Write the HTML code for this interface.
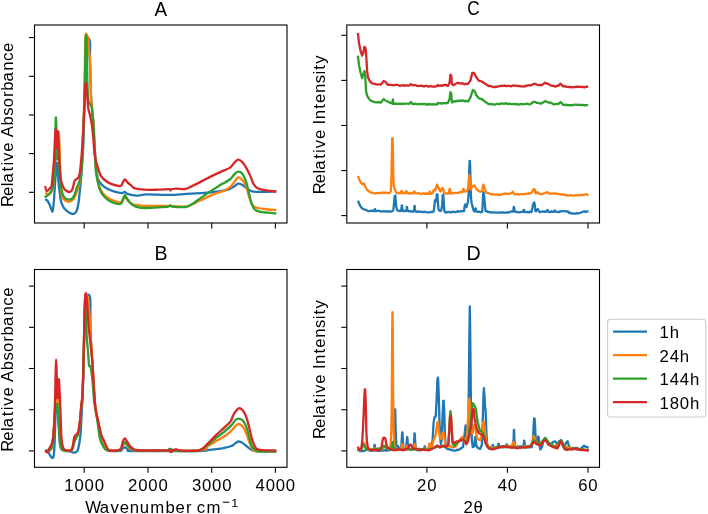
<!DOCTYPE html>
<html><head><meta charset="utf-8"><style>html,body{margin:0;padding:0;background:#fff;width:708px;height:514px;overflow:hidden}svg{display:block}</style></head>
<body><svg width="708" height="514" viewBox="0 0 708 514" style="will-change:transform">
<rect x="0" y="0" width="708" height="514" fill="#fff"/>
<clipPath id="cpA"><rect x="34.5" y="25.0" width="252.5" height="198.0"/></clipPath>
<clipPath id="cpC"><rect x="346.8" y="25.0" width="252.7" height="198.0"/></clipPath>
<clipPath id="cpB"><rect x="34.5" y="269.5" width="252.5" height="197.8"/></clipPath>
<clipPath id="cpD"><rect x="346.8" y="269.5" width="252.7" height="197.8"/></clipPath>
<g clip-path="url(#cpA)" fill="none" stroke-width="2.3" stroke-linejoin="round" stroke-linecap="butt">
<path stroke="#1f77b4" d="M45.20,199.10C45.62,199.42 46.97,200.07 47.70,201.00C48.43,201.93 48.97,203.25 49.60,204.70C50.23,206.15 50.98,208.65 51.50,209.70C52.02,210.75 52.28,212.65 52.70,211.00C53.12,209.35 53.58,204.78 54.00,199.80C54.42,194.82 54.80,186.70 55.20,181.10C55.60,175.50 56.10,169.22 56.40,166.20C56.70,163.18 56.77,162.03 57.00,163.00C57.23,163.97 57.50,168.33 57.80,172.00C58.10,175.67 58.47,181.50 58.80,185.00C59.13,188.50 59.42,190.22 59.80,193.00C60.18,195.78 60.45,199.25 61.10,201.70C61.75,204.15 62.70,206.13 63.70,207.70C64.70,209.27 65.82,210.10 67.10,211.10C68.38,212.10 70.25,213.27 71.40,213.70C72.55,214.13 73.13,214.13 74.00,213.70C74.87,213.27 75.88,212.67 76.60,211.10C77.32,209.53 77.80,207.30 78.30,204.30C78.80,201.30 79.17,197.10 79.60,193.10C80.03,189.10 80.53,184.48 80.90,180.30C81.27,176.12 81.45,173.05 81.80,168.00C82.15,162.95 82.63,158.00 83.00,150.00C83.37,142.00 83.70,130.00 84.00,120.00C84.30,110.00 84.55,100.00 84.80,90.00C85.05,80.00 85.27,68.00 85.50,60.00C85.73,52.00 85.92,45.57 86.20,42.00C86.48,38.43 86.75,39.15 87.20,38.60C87.65,38.05 88.43,38.20 88.90,38.70C89.37,39.20 89.80,40.05 90.00,41.60C90.20,43.15 90.12,45.27 90.10,48.00C90.08,50.73 89.88,54.67 89.90,58.00C89.92,61.33 90.10,64.67 90.20,68.00C90.30,71.33 90.40,74.33 90.50,78.00C90.60,81.67 90.67,86.33 90.80,90.00C90.93,93.67 91.07,96.67 91.30,100.00C91.53,103.33 91.88,106.33 92.20,110.00C92.52,113.67 92.87,117.00 93.20,122.00C93.53,127.00 93.82,133.67 94.20,140.00C94.58,146.33 95.12,155.00 95.50,160.00C95.88,165.00 96.08,166.87 96.50,170.00C96.92,173.13 97.15,176.38 98.00,178.80C98.85,181.22 100.03,182.83 101.60,184.50C103.17,186.17 105.23,187.60 107.40,188.80C109.57,190.00 112.20,190.97 114.60,191.70C117.00,192.43 120.13,193.15 121.80,193.20C123.47,193.25 123.65,191.88 124.60,192.00C125.55,192.12 125.93,193.35 127.50,193.90C129.07,194.45 132.17,195.02 134.00,195.30C135.83,195.58 136.33,195.77 138.50,195.60C140.67,195.43 141.83,194.42 147.00,194.30C152.17,194.18 162.92,194.97 169.50,194.90C176.08,194.83 181.32,194.18 186.50,193.90C191.68,193.62 196.83,193.43 200.60,193.20C204.37,192.97 206.20,192.80 209.10,192.50C212.00,192.20 214.97,191.83 218.00,191.40C221.03,190.97 224.70,190.67 227.30,189.90C229.90,189.13 231.78,187.83 233.60,186.80C235.42,185.77 236.65,183.97 238.20,183.70C239.75,183.43 241.35,184.30 242.90,185.20C244.45,186.10 245.95,188.07 247.50,189.10C249.05,190.13 250.38,190.93 252.20,191.40C254.02,191.87 254.38,191.90 258.40,191.90C262.42,191.90 273.32,191.48 276.30,191.40"/>
<path stroke="#ff7f0e" d="M45.20,193.20C45.73,193.32 47.52,193.93 48.40,193.90C49.28,193.87 49.90,193.48 50.50,193.00C51.10,192.52 51.52,192.33 52.00,191.00C52.48,189.67 52.98,188.50 53.40,185.00C53.82,181.50 54.15,175.83 54.50,170.00C54.85,164.17 55.17,155.00 55.50,150.00C55.83,145.00 56.17,142.67 56.50,140.00C56.83,137.33 57.15,135.37 57.50,134.00C57.85,132.63 58.30,130.80 58.60,131.80C58.90,132.80 59.08,135.30 59.30,140.00C59.52,144.70 59.68,153.33 59.90,160.00C60.12,166.67 60.37,175.00 60.60,180.00C60.83,185.00 61.07,187.23 61.30,190.00C61.53,192.77 61.45,194.93 62.00,196.60C62.55,198.27 63.60,199.15 64.60,200.00C65.60,200.85 66.87,201.55 68.00,201.70C69.13,201.85 70.25,201.75 71.40,200.90C72.55,200.05 73.90,198.47 74.90,196.60C75.90,194.73 76.70,191.70 77.40,189.70C78.10,187.70 78.58,186.55 79.10,184.60C79.62,182.65 80.10,181.27 80.50,178.00C80.90,174.73 81.17,169.67 81.50,165.00C81.83,160.33 82.17,157.17 82.50,150.00C82.83,142.83 83.20,130.33 83.50,122.00C83.80,113.67 84.08,108.67 84.30,100.00C84.52,91.33 84.65,79.17 84.80,70.00C84.95,60.83 85.03,50.95 85.20,45.00C85.37,39.05 85.53,35.92 85.80,34.30C86.07,32.68 86.42,34.65 86.80,35.30C87.18,35.95 87.75,35.87 88.10,38.20C88.45,40.53 88.63,46.15 88.90,49.30C89.17,52.45 89.47,54.32 89.70,57.10C89.93,59.88 90.15,62.18 90.30,66.00C90.45,69.82 90.48,74.78 90.60,80.00C90.72,85.22 90.82,93.18 91.00,97.30C91.18,101.42 91.43,102.08 91.70,104.70C91.97,107.32 92.30,109.62 92.60,113.00C92.90,116.38 93.18,119.67 93.50,125.00C93.82,130.33 94.17,138.83 94.50,145.00C94.83,151.17 95.17,157.50 95.50,162.00C95.83,166.50 96.08,168.67 96.50,172.00C96.92,175.33 97.15,178.72 98.00,182.00C98.85,185.28 100.03,189.12 101.60,191.70C103.17,194.28 105.23,195.93 107.40,197.50C109.57,199.07 112.45,200.27 114.60,201.10C116.75,201.93 118.98,202.68 120.30,202.50C121.62,202.32 121.78,200.83 122.50,200.00C123.22,199.17 123.85,197.58 124.60,197.50C125.35,197.42 126.27,198.78 127.00,199.50C127.73,200.22 127.83,200.93 129.00,201.80C130.17,202.67 132.90,204.18 134.00,204.70C135.10,205.22 133.92,204.70 135.60,204.90C137.28,205.10 138.68,205.73 144.10,205.90C149.52,206.07 161.27,205.78 168.10,205.90C174.93,206.02 181.33,206.72 185.10,206.60C188.87,206.48 188.12,206.25 190.70,205.20C193.28,204.15 196.60,202.18 200.60,200.30C204.60,198.42 210.77,195.50 214.70,193.90C218.63,192.30 221.58,191.88 224.20,190.70C226.82,189.52 228.72,188.23 230.40,186.80C232.08,185.37 233.00,183.67 234.30,182.10C235.60,180.53 236.90,177.78 238.20,177.40C239.50,177.02 240.80,178.37 242.10,179.80C243.40,181.23 244.83,183.15 246.00,186.00C247.17,188.85 248.07,193.78 249.10,196.90C250.13,200.02 251.03,202.93 252.20,204.70C253.37,206.47 254.02,206.78 256.10,207.50C258.18,208.22 261.33,208.57 264.70,209.00C268.07,209.43 274.37,209.92 276.30,210.10"/>
<path stroke="#2ca02c" d="M44.60,197.30C45.12,196.98 46.77,196.13 47.70,195.40C48.63,194.67 49.37,194.25 50.20,192.90C51.03,191.55 51.97,190.30 52.70,187.30C53.43,184.30 54.18,181.12 54.60,174.90C55.02,168.68 55.02,159.28 55.20,150.00C55.38,140.72 55.52,123.37 55.70,119.20C55.88,115.03 56.10,118.53 56.30,125.00C56.50,131.47 56.68,153.50 56.90,158.00C57.12,162.50 57.35,154.83 57.60,152.00C57.85,149.17 58.17,141.00 58.40,141.00C58.63,141.00 58.82,147.17 59.00,152.00C59.18,156.83 59.28,165.33 59.50,170.00C59.72,174.67 60.03,177.15 60.30,180.00C60.57,182.85 60.67,184.62 61.10,187.10C61.53,189.58 62.18,193.03 62.90,194.90C63.62,196.77 64.40,197.52 65.40,198.30C66.40,199.08 67.75,199.60 68.90,199.60C70.05,199.60 71.30,199.23 72.30,198.30C73.30,197.37 74.18,195.72 74.90,194.00C75.62,192.28 76.03,189.57 76.60,188.00C77.17,186.43 77.80,185.88 78.30,184.60C78.80,183.32 79.17,181.73 79.60,180.30C80.03,178.87 80.53,178.55 80.90,176.00C81.27,173.45 81.47,169.33 81.80,165.00C82.13,160.67 82.60,156.83 82.90,150.00C83.20,143.17 83.33,132.33 83.60,124.00C83.87,115.67 84.25,109.00 84.50,100.00C84.75,91.00 84.95,79.17 85.10,70.00C85.25,60.83 85.27,50.73 85.40,45.00C85.53,39.27 85.70,36.77 85.90,35.60C86.10,34.43 86.42,35.60 86.60,38.00C86.78,40.40 86.91,45.50 87.00,50.00C87.09,54.50 87.09,60.00 87.15,65.00C87.21,70.00 87.22,75.00 87.35,80.00C87.47,85.00 87.69,91.33 87.90,95.00C88.11,98.67 88.18,100.38 88.60,102.00C89.02,103.62 89.88,103.83 90.40,104.70C90.92,105.57 91.38,105.75 91.70,107.20C92.02,108.65 92.00,110.60 92.30,113.40C92.60,116.20 93.17,119.57 93.50,124.00C93.83,128.43 94.02,134.33 94.30,140.00C94.58,145.67 94.93,152.73 95.20,158.00C95.47,163.27 95.32,166.93 95.90,171.60C96.48,176.27 97.75,182.40 98.70,186.00C99.65,189.60 100.15,190.93 101.60,193.20C103.05,195.47 105.23,197.93 107.40,199.60C109.57,201.27 112.45,202.47 114.60,203.20C116.75,203.93 118.98,204.35 120.30,204.00C121.62,203.65 121.78,202.55 122.50,201.10C123.22,199.65 123.88,195.78 124.60,195.30C125.32,194.82 125.83,196.88 126.80,198.20C127.77,199.52 128.93,201.80 130.40,203.20C131.87,204.60 133.32,205.80 135.60,206.60C137.88,207.40 140.33,207.88 144.10,208.00C147.87,208.12 154.20,207.53 158.20,207.30C162.20,207.07 166.08,206.95 168.10,206.60C170.12,206.25 169.58,205.20 170.30,205.20C171.02,205.20 169.93,206.30 172.40,206.60C174.87,206.90 182.05,207.28 185.10,207.00C188.15,206.72 188.12,206.38 190.70,204.90C193.28,203.42 197.07,200.52 200.60,198.10C204.13,195.68 208.37,192.75 211.90,190.40C215.43,188.05 219.75,185.25 221.80,184.00C223.85,182.75 222.77,183.73 224.20,182.90C225.63,182.07 228.72,180.43 230.40,179.00C232.08,177.57 233.00,175.52 234.30,174.30C235.60,173.08 236.90,171.83 238.20,171.70C239.50,171.57 240.80,171.90 242.10,173.50C243.40,175.10 244.83,177.92 246.00,181.30C247.17,184.68 248.20,190.17 249.10,193.80C250.00,197.43 250.50,200.52 251.40,203.10C252.30,205.68 253.07,207.87 254.50,209.30C255.93,210.73 257.78,211.13 260.00,211.70C262.22,212.27 265.08,212.40 267.80,212.70C270.52,213.00 274.88,213.37 276.30,213.50"/>
<path stroke="#d62728" d="M45.20,186.00C45.42,186.83 45.77,190.57 46.50,191.00C47.23,191.43 48.77,189.43 49.60,188.60C50.43,187.77 50.98,188.28 51.50,186.00C52.02,183.72 52.28,179.23 52.70,174.90C53.12,170.57 53.63,165.82 54.00,160.00C54.37,154.18 54.63,145.08 54.90,140.00C55.17,134.92 55.38,130.67 55.60,129.50C55.82,128.33 56.02,129.92 56.20,133.00C56.38,136.08 56.53,146.83 56.70,148.00C56.87,149.17 57.03,142.75 57.20,140.00C57.37,137.25 57.52,132.17 57.70,131.50C57.88,130.83 58.10,132.92 58.30,136.00C58.50,139.08 58.70,145.18 58.90,150.00C59.10,154.82 59.27,160.90 59.50,164.90C59.73,168.90 60.03,171.30 60.30,174.00C60.57,176.70 60.53,178.77 61.10,181.10C61.67,183.43 62.88,186.43 63.70,188.00C64.52,189.57 65.13,189.85 66.00,190.50C66.87,191.15 68.00,191.82 68.90,191.90C69.80,191.98 70.70,191.80 71.40,191.00C72.10,190.20 72.60,188.75 73.10,187.10C73.60,185.45 73.90,182.38 74.40,181.10C74.90,179.82 75.38,180.10 76.10,179.40C76.82,178.70 78.05,178.20 78.70,176.90C79.35,175.60 79.50,175.42 80.00,171.60C80.50,167.78 81.27,159.30 81.70,154.00C82.13,148.70 82.28,144.80 82.60,139.80C82.92,134.80 83.30,129.80 83.60,124.00C83.90,118.20 84.17,110.67 84.40,105.00C84.63,99.33 84.78,93.67 85.00,90.00C85.22,86.33 85.47,83.33 85.70,83.00C85.93,82.67 86.13,85.62 86.40,88.00C86.67,90.38 86.97,93.80 87.30,97.30C87.63,100.80 87.92,105.88 88.40,109.00C88.88,112.12 89.62,113.33 90.20,116.00C90.78,118.67 91.40,121.50 91.90,125.00C92.40,128.50 92.82,132.83 93.20,137.00C93.58,141.17 93.87,146.50 94.20,150.00C94.53,153.50 94.68,155.37 95.20,158.00C95.72,160.63 96.35,162.82 97.30,165.80C98.25,168.78 99.45,173.37 100.90,175.90C102.35,178.43 104.20,179.62 106.00,181.00C107.80,182.38 109.32,183.37 111.70,184.20C114.08,185.03 118.50,186.18 120.30,186.00C122.10,185.82 121.73,184.18 122.50,183.10C123.27,182.02 124.07,179.62 124.90,179.50C125.73,179.38 126.35,181.32 127.50,182.40C128.65,183.48 130.68,185.03 131.80,186.00C132.92,186.97 132.15,187.58 134.20,188.20C136.25,188.82 140.10,189.45 144.10,189.70C148.10,189.95 153.97,189.78 158.20,189.70C162.43,189.62 167.45,189.07 169.50,189.20C171.55,189.33 170.08,190.53 170.50,190.50C170.92,190.47 170.98,189.30 172.00,189.00C173.02,188.70 174.42,188.70 176.60,188.70C178.78,188.70 182.98,189.20 185.10,189.00C187.22,188.80 186.72,188.68 189.30,187.50C191.88,186.32 196.37,184.05 200.60,181.90C204.83,179.75 210.77,176.52 214.70,174.60C218.63,172.68 221.58,171.62 224.20,170.40C226.82,169.18 228.72,168.58 230.40,167.30C232.08,166.02 233.00,163.98 234.30,162.70C235.60,161.42 236.90,159.73 238.20,159.60C239.50,159.47 240.80,160.62 242.10,161.90C243.40,163.18 244.70,165.10 246.00,167.30C247.30,169.50 248.73,172.50 249.90,175.10C251.07,177.70 251.97,180.88 253.00,182.90C254.03,184.92 254.93,186.17 256.10,187.20C257.27,188.23 258.05,188.52 260.00,189.10C261.95,189.68 265.08,190.27 267.80,190.70C270.52,191.13 274.88,191.53 276.30,191.70"/>
</g>
<g clip-path="url(#cpC)" fill="none" stroke-width="2.3" stroke-linejoin="round" stroke-linecap="butt">
<polyline stroke="#1f77b4" points="358.10,200.70 359.20,203.80 360.40,206.30 362.00,208.20 364.10,209.60 365.55,209.62 367.00,210.50 368.23,211.08 369.47,211.19 370.70,211.00 372.10,210.67 373.50,211.10 373.90,211.20 374.40,210.15 374.78,209.10 375.02,209.10 375.40,210.15 375.90,211.20 377.27,210.96 378.63,210.91 380.00,211.20 381.20,211.57 382.40,211.40 383.60,211.09 384.80,211.27 386.00,211.30 387.16,211.58 388.32,211.07 389.48,211.52 390.64,211.65 391.80,211.40 393.30,210.40 393.90,205.00 394.50,198.00 394.90,195.60 395.30,195.60 395.70,200.00 396.30,207.00 397.30,210.40 399.50,211.00 400.90,211.00 401.55,208.25 401.78,205.50 402.02,205.50 402.25,208.25 402.90,211.00 404.50,211.00 406.00,211.00 406.55,209.00 406.78,207.00 407.02,207.00 407.25,209.00 407.80,211.00 409.50,211.30 410.77,211.03 412.03,211.72 413.30,211.50 413.60,211.50 414.25,208.65 414.48,205.80 414.72,205.80 414.95,208.65 415.60,211.50 417.07,212.02 418.53,211.30 420.00,211.80 421.20,211.82 422.40,211.98 423.60,212.16 424.80,211.76 426.00,212.20 427.30,212.31 428.60,212.47 429.90,212.18 431.20,211.83 432.50,212.00 433.60,211.50 434.30,207.00 434.80,201.00 435.30,200.00 435.80,201.50 436.30,200.00 436.80,194.50 437.40,194.50 437.90,202.00 438.40,209.00 439.20,210.50 440.20,211.00 441.30,210.50 442.20,205.00 442.80,195.00 443.40,195.00 443.90,205.00 444.50,211.50 445.40,212.60 446.70,212.08 448.00,212.20 449.12,211.94 450.24,212.38 451.36,212.41 452.48,211.68 453.60,211.90 454.95,212.16 456.30,211.80 457.65,211.34 459.00,211.50 460.25,211.31 461.50,211.03 462.75,211.18 464.00,211.20 464.70,206.00 465.20,204.40 465.90,206.50 466.50,207.10 467.30,204.00 467.90,201.70 468.50,196.00 468.90,185.00 469.30,168.00 469.60,160.90 469.90,160.90 470.20,168.00 470.60,185.00 471.00,198.00 471.60,203.00 472.70,207.10 473.50,210.00 474.00,211.20 474.60,211.50 475.10,210.00 475.48,208.50 475.72,208.50 476.10,210.00 476.60,211.50 477.50,211.90 478.68,211.56 479.85,211.95 481.02,212.27 482.20,211.90 482.70,203.00 483.10,195.00 483.40,192.20 483.80,193.50 484.20,196.30 484.80,204.00 485.60,211.20 486.80,211.19 488.00,212.00 489.23,211.91 490.47,212.15 491.70,212.60 492.89,212.32 494.07,212.42 495.26,212.56 496.44,212.64 497.63,212.66 498.81,212.72 500.00,212.60 501.20,212.23 502.40,212.74 503.60,212.48 504.80,212.70 506.40,212.75 508.00,212.20 509.40,212.39 510.80,211.43 512.20,211.50 512.70,211.70 513.40,209.30 513.78,206.90 514.02,206.90 514.40,209.30 515.10,211.70 516.55,212.14 518.00,212.00 519.25,212.39 520.50,212.18 521.75,211.70 523.00,212.00 523.00,212.00 523.40,210.90 523.78,209.80 524.02,209.80 524.40,210.90 524.80,212.00 525.90,212.25 527.00,212.00 528.12,211.91 529.25,212.30 530.38,211.59 531.50,212.00 532.40,208.00 533.10,204.00 533.60,203.20 534.30,202.40 534.80,205.00 535.40,211.00 536.20,211.30 537.20,209.50 537.90,209.10 538.60,210.50 539.50,212.00 540.62,212.10 541.75,211.37 542.88,211.53 544.00,211.50 546.20,211.80 546.90,210.80 547.28,209.80 547.52,209.80 547.90,210.80 548.60,211.80 549.80,212.07 551.00,211.50 552.25,211.75 553.50,211.80 554.20,211.15 554.58,210.50 554.82,210.50 555.20,211.15 555.90,211.80 558.00,211.80 559.37,211.99 560.73,211.03 562.10,211.30 563.40,211.19 564.70,211.05 566.00,211.50 568.00,211.30 569.40,213.20 570.60,212.87 571.80,213.43 573.00,213.50 574.30,213.71 575.60,213.62 576.90,213.09 578.20,213.50 579.60,212.98 581.00,212.50 582.55,211.99 584.10,211.30 586.00,211.80 587.25,211.35 588.50,211.30"/>
<polyline stroke="#ff7f0e" points="357.90,175.80 359.70,180.40 361.20,183.00 362.50,184.00 363.50,183.50 364.30,184.00 365.20,186.50 366.10,188.60 367.80,190.50 369.80,191.90 371.40,192.75 373.00,192.80 374.37,193.34 375.73,193.42 377.10,193.20 378.20,193.21 379.30,193.19 380.40,192.69 381.50,192.93 382.60,192.60 384.07,193.10 385.53,192.45 387.00,192.80 388.50,193.10 390.00,192.60 390.90,191.00 391.50,175.00 391.90,150.00 392.20,138.20 392.60,138.20 392.90,150.00 393.30,175.00 393.80,186.00 394.40,188.00 395.20,190.50 396.30,192.50 397.30,193.20 398.40,193.45 399.50,192.83 400.60,193.00 400.60,193.20 401.10,192.10 401.48,191.00 401.72,191.00 402.10,192.10 402.60,193.20 404.05,192.85 405.50,193.00 405.50,193.20 405.90,192.20 406.28,191.20 406.52,191.20 406.90,192.20 407.30,193.20 408.52,193.63 409.74,193.18 410.96,193.58 412.18,192.90 413.40,193.20 413.40,193.40 413.80,192.40 414.18,191.40 414.42,191.40 414.80,192.40 415.20,193.40 416.40,193.45 417.60,193.39 418.80,193.20 420.00,193.60 421.10,193.77 422.20,193.87 423.30,193.33 424.40,193.50 425.50,193.86 426.60,193.31 427.70,193.94 428.80,193.80 428.90,193.80 429.30,192.70 429.68,191.60 429.92,191.60 430.30,192.70 430.70,193.80 432.50,193.20 433.60,190.50 434.30,189.60 435.30,190.50 436.30,187.00 437.10,184.60 437.90,186.50 438.80,188.50 439.70,190.50 440.60,191.50 441.60,189.00 442.40,188.00 443.20,189.00 444.10,193.00 445.50,193.50 446.85,193.55 448.20,193.50 448.70,193.50 449.30,191.15 449.68,188.80 449.92,188.80 450.30,191.15 450.90,193.50 452.50,193.30 453.77,193.18 455.03,192.81 456.30,192.90 457.40,192.84 458.50,193.02 459.60,192.36 460.70,191.99 461.80,192.20 462.40,192.20 462.90,190.50 463.28,188.80 463.52,188.80 463.90,190.15 464.40,191.50 465.20,191.50 467.20,190.80 468.20,188.00 468.80,182.00 469.30,175.20 469.80,182.00 470.30,188.50 471.00,189.50 472.00,187.00 472.70,186.10 474.00,185.60 474.70,185.60 475.60,187.50 476.70,189.50 479.50,191.50 480.85,191.49 482.20,190.80 482.80,187.00 483.30,184.70 483.90,186.00 484.60,188.10 485.50,191.00 486.30,192.90 487.65,192.97 489.00,193.19 490.35,194.13 491.70,194.20 493.13,194.42 494.57,194.65 496.00,194.40 497.33,194.90 498.67,194.62 500.00,194.90 501.20,194.59 502.40,193.92 503.60,194.11 504.80,193.60 506.10,193.67 507.40,193.88 508.70,193.93 510.00,193.50 511.90,192.80 512.90,191.80 514.00,193.50 515.10,194.40 516.33,194.38 517.55,193.89 518.77,194.65 520.00,194.20 521.25,194.04 522.50,194.15 523.75,194.20 525.00,194.00 526.25,194.05 527.50,193.56 528.75,193.50 530.00,193.60 531.80,192.30 532.70,190.70 533.60,189.20 534.50,189.20 535.30,192.00 535.90,193.60 537.20,192.50 537.90,192.20 539.00,193.50 540.00,193.80 541.33,194.12 542.67,193.92 544.00,193.40 545.10,193.03 546.20,192.50 547.40,192.20 548.60,193.20 550.00,193.60 551.20,193.66 552.40,193.36 553.60,193.54 554.80,193.41 556.00,193.50 557.33,193.81 558.67,194.22 560.00,194.20 561.30,194.61 562.60,194.49 563.90,194.39 565.20,195.15 566.50,195.10 567.67,195.58 568.83,195.55 570.00,195.20 571.33,195.30 572.65,195.67 573.97,195.38 575.30,195.40 576.47,194.90 577.65,195.41 578.83,195.44 580.00,195.20 581.33,194.91 582.67,195.13 584.00,194.80 585.12,194.57 586.25,194.22 587.38,194.80 588.50,194.40"/>
<polyline stroke="#2ca02c" points="357.90,55.60 359.00,64.90 360.60,72.70 362.10,78.10 363.00,75.50 363.70,72.70 364.40,71.10 365.00,73.50 365.30,77.00 365.70,85.10 366.30,92.90 367.60,96.80 369.90,99.90 371.80,101.20 373.80,101.80 375.00,102.19 376.20,102.44 377.40,102.28 378.60,102.17 379.80,102.23 381.00,102.60 383.70,99.00 386.00,101.00 387.28,101.33 388.56,101.74 389.84,102.89 391.12,102.72 392.40,103.70 392.90,99.30 393.40,103.70 394.51,104.09 395.63,103.57 396.74,103.76 397.86,103.80 398.97,103.87 400.09,103.38 401.20,104.14 402.31,103.84 403.43,103.60 404.54,103.88 405.66,103.65 406.77,103.66 407.89,103.53 409.00,104.00 410.80,101.90 412.50,104.00 413.62,103.98 414.74,103.62 415.85,104.05 416.97,104.15 418.09,104.20 419.21,104.03 420.33,103.77 421.45,104.25 422.56,103.81 423.68,104.18 424.80,103.91 425.92,104.19 427.04,104.78 428.15,104.01 429.27,104.59 430.39,104.15 431.51,104.30 432.63,104.53 433.75,104.20 434.86,104.40 435.98,104.48 437.10,104.60 438.00,102.80 440.00,103.50 441.13,103.11 442.26,103.70 443.39,103.05 444.51,103.16 445.64,103.15 446.77,103.24 447.90,102.90 449.60,99.00 450.40,92.20 451.30,94.00 451.90,102.40 453.17,102.03 454.45,101.10 455.73,101.52 457.00,100.70 458.12,101.08 459.24,100.89 460.36,100.31 461.48,100.88 462.60,100.70 463.72,100.52 464.84,101.44 465.96,100.79 467.08,101.12 468.20,101.50 470.50,97.30 472.80,90.00 474.50,91.10 476.20,95.00 479.00,98.40 480.40,98.72 481.80,99.00 485.20,101.80 488.60,104.10 489.72,103.87 490.84,104.39 491.96,103.98 493.08,104.35 494.20,104.60 495.33,104.61 496.46,103.93 497.59,103.87 498.71,104.10 499.84,104.23 500.97,103.28 502.10,103.50 503.24,103.57 504.39,103.88 505.53,103.23 506.67,103.53 507.81,104.08 508.96,103.55 510.10,103.80 511.33,104.12 512.55,104.20 513.77,103.93 515.00,104.40 516.11,104.03 517.23,103.99 518.34,104.64 519.46,104.46 520.57,104.07 521.69,103.83 522.80,104.43 523.91,104.20 525.03,104.08 526.14,103.85 527.26,103.64 528.37,104.06 529.49,104.39 530.60,104.00 533.60,101.80 535.10,101.86 536.60,102.80 537.80,102.75 539.00,103.32 540.20,103.36 541.40,103.50 545.00,101.20 546.20,101.48 547.40,102.09 548.60,102.50 549.80,102.65 551.00,102.94 552.20,103.39 553.40,104.30 554.60,104.40 555.80,103.93 557.00,103.85 558.20,104.20 560.60,102.00 563.00,104.60 564.20,105.06 565.40,104.67 566.60,105.14 567.80,104.94 569.00,105.40 570.20,104.99 571.40,105.34 572.60,104.85 573.80,105.14 575.00,104.69 576.20,104.67 577.40,105.00 578.60,104.70 579.80,104.89 581.00,105.14 582.20,104.94 583.40,104.90 584.60,105.42 585.80,105.14 587.00,105.04 588.20,105.00"/>
<polyline stroke="#d62728" points="357.90,33.00 359.00,43.10 360.60,50.90 362.10,55.60 363.20,53.20 364.40,47.00 365.30,47.50 365.80,50.00 366.30,57.10 367.10,71.10 368.00,77.40 369.90,81.30 371.50,82.80 373.00,83.60 374.30,84.01 375.60,83.91 376.90,84.60 378.27,84.45 379.63,84.46 381.00,84.60 383.70,80.90 385.40,81.80 388.00,84.90 389.17,84.67 390.33,84.82 391.50,84.88 392.67,85.03 393.83,85.35 395.00,84.94 396.17,84.96 397.33,84.83 398.50,85.30 399.67,85.74 400.83,85.61 402.00,85.28 403.17,85.24 404.33,85.85 405.50,85.40 406.67,85.44 407.83,85.68 409.00,85.60 410.80,84.10 412.50,85.30 413.62,85.18 414.74,85.19 415.85,85.13 416.97,85.95 418.09,85.93 419.21,86.00 420.33,85.76 421.45,85.60 422.56,85.98 423.68,86.56 424.80,86.20 425.92,85.94 427.04,85.86 428.15,86.62 429.27,86.55 430.39,85.88 431.51,86.37 432.63,86.64 433.75,86.65 434.86,86.50 435.98,86.37 437.10,86.20 438.00,85.00 440.00,86.00 441.12,85.38 442.25,85.90 443.38,85.21 444.50,84.90 445.63,84.90 446.77,85.41 447.90,86.00 449.60,82.60 450.40,74.70 451.30,75.80 451.90,83.70 453.00,85.10 454.33,84.68 455.67,83.76 457.00,83.20 458.12,82.99 459.24,83.04 460.36,83.28 461.48,83.55 462.60,83.20 464.30,84.30 465.60,83.68 466.90,84.08 468.20,83.70 470.50,80.30 472.20,73.00 473.90,73.00 475.60,75.80 477.30,78.60 479.00,80.90 480.40,81.01 481.80,81.50 485.20,83.70 488.60,86.00 489.72,86.19 490.84,86.05 491.96,86.53 493.08,87.08 494.20,86.90 495.33,86.98 496.46,86.91 497.59,86.59 498.71,86.26 499.84,86.18 500.97,85.69 502.10,86.00 503.24,85.79 504.39,85.63 505.53,85.75 506.67,86.23 507.81,85.77 508.96,85.86 510.10,86.20 511.33,86.23 512.55,85.59 513.77,85.48 515.00,85.80 516.20,85.49 517.40,86.04 518.60,85.99 519.80,85.89 521.00,86.38 522.20,86.40 523.40,86.47 524.60,86.56 525.80,85.53 527.00,85.84 528.20,85.47 529.40,85.24 530.60,85.40 532.10,84.96 533.60,83.80 535.10,83.81 536.60,84.60 537.80,84.90 539.00,85.10 540.20,84.90 541.40,85.40 545.00,82.80 546.20,83.66 547.40,83.34 548.60,84.20 549.80,84.79 551.00,85.49 552.20,85.93 553.40,85.75 554.60,86.40 555.80,86.56 557.00,85.71 558.20,85.80 560.60,83.60 563.00,86.40 564.20,86.25 565.40,86.36 566.60,86.89 567.80,86.83 569.00,87.00 570.20,87.16 571.40,86.90 572.60,87.28 573.80,87.02 575.00,87.18 576.20,86.56 577.40,87.00 578.60,86.75 579.80,86.80 581.00,86.72 582.20,87.14 583.40,86.80 584.60,87.35 585.80,86.86 587.00,86.66 588.20,87.00"/>
</g>
<g clip-path="url(#cpB)" fill="none" stroke-width="2.3" stroke-linejoin="round" stroke-linecap="butt">
<path stroke="#1f77b4" d="M45.50,450.50C45.95,450.80 47.43,451.48 48.20,452.30C48.97,453.12 49.47,454.47 50.10,455.40C50.73,456.33 51.43,457.68 52.00,457.90C52.57,458.12 53.13,458.02 53.50,456.70C53.87,455.38 54.00,452.62 54.20,450.00C54.40,447.38 54.57,444.33 54.70,441.00C54.83,437.67 54.88,433.83 55.00,430.00C55.12,426.17 55.20,421.83 55.40,418.00C55.60,414.17 55.90,408.92 56.20,407.00C56.50,405.08 56.92,405.83 57.20,406.50C57.48,407.17 57.70,408.75 57.90,411.00C58.10,413.25 58.22,416.83 58.40,420.00C58.58,423.17 58.80,426.67 59.00,430.00C59.20,433.33 59.38,437.33 59.60,440.00C59.82,442.67 59.90,444.33 60.30,446.00C60.70,447.67 61.22,449.20 62.00,450.00C62.78,450.80 63.57,450.55 65.00,450.80C66.43,451.05 69.15,451.18 70.60,451.50C72.05,451.82 72.57,452.82 73.70,452.70C74.83,452.58 76.47,452.35 77.40,450.80C78.33,449.25 78.77,446.30 79.30,443.40C79.83,440.50 80.22,438.13 80.60,433.40C80.98,428.67 81.27,421.23 81.60,415.00C81.93,408.77 82.28,403.50 82.60,396.00C82.92,388.50 83.20,381.00 83.50,370.00C83.80,359.00 84.10,340.83 84.40,330.00C84.70,319.17 84.95,310.50 85.30,305.00C85.65,299.50 85.95,298.72 86.50,297.00C87.05,295.28 87.98,294.47 88.60,294.70C89.22,294.93 89.90,295.08 90.20,298.40C90.50,301.72 90.35,309.67 90.40,314.60C90.45,319.53 90.38,323.43 90.50,328.00C90.62,332.57 90.85,337.00 91.10,342.00C91.35,347.00 91.67,352.33 92.00,358.00C92.33,363.67 92.73,370.00 93.10,376.00C93.47,382.00 93.85,389.00 94.20,394.00C94.55,399.00 94.60,401.50 95.20,406.00C95.80,410.50 96.87,416.17 97.80,421.00C98.73,425.83 99.80,431.33 100.80,435.00C101.80,438.67 102.73,440.58 103.80,443.00C104.87,445.42 106.17,448.17 107.20,449.50C108.23,450.83 108.10,450.75 110.00,451.00C111.90,451.25 116.75,451.08 118.60,451.00C120.45,450.92 120.38,450.92 121.10,450.50C121.82,450.08 122.28,449.07 122.90,448.50C123.52,447.93 124.17,447.10 124.80,447.10C125.43,447.10 125.87,447.98 126.70,448.50C127.53,449.02 128.67,449.78 129.80,450.20C130.93,450.62 121.98,450.87 133.50,451.00C145.02,451.13 186.45,451.18 198.90,451.00C211.35,450.82 205.30,450.20 208.20,449.90C211.10,449.60 213.58,449.53 216.30,449.20C219.02,448.87 221.88,448.47 224.50,447.90C227.12,447.33 230.18,446.60 232.00,445.80C233.82,445.00 234.27,443.82 235.40,443.10C236.53,442.38 237.55,441.50 238.80,441.50C240.05,441.50 241.42,442.15 242.90,443.10C244.38,444.05 246.23,446.07 247.70,447.20C249.17,448.33 250.12,449.27 251.70,449.90C253.28,450.53 253.10,450.82 257.20,451.00C261.30,451.18 273.12,451.00 276.30,451.00"/>
<path stroke="#ff7f0e" d="M45.50,450.50C45.92,450.67 47.23,451.52 48.00,451.50C48.77,451.48 49.43,451.10 50.10,450.40C50.77,449.70 51.52,449.03 52.00,447.30C52.48,445.57 52.67,443.72 53.00,440.00C53.33,436.28 53.67,430.33 54.00,425.00C54.33,419.67 54.67,412.83 55.00,408.00C55.33,403.17 55.70,398.67 56.00,396.00C56.30,393.33 56.53,392.00 56.80,392.00C57.07,392.00 57.32,393.00 57.60,396.00C57.88,399.00 58.22,405.17 58.50,410.00C58.78,414.83 59.02,420.33 59.30,425.00C59.58,429.67 59.83,434.33 60.20,438.00C60.57,441.67 61.03,445.00 61.50,447.00C61.97,449.00 62.25,449.42 63.00,450.00C63.75,450.58 64.73,450.42 66.00,450.50C67.27,450.58 69.52,450.75 70.60,450.50C71.68,450.25 71.88,450.42 72.50,449.00C73.12,447.58 73.68,444.00 74.30,442.00C74.92,440.00 75.57,438.50 76.20,437.00C76.83,435.50 77.48,435.33 78.10,433.00C78.72,430.67 79.38,427.17 79.90,423.00C80.42,418.83 80.78,412.50 81.20,408.00C81.62,403.50 82.05,402.33 82.40,396.00C82.75,389.67 83.00,381.00 83.30,370.00C83.60,359.00 83.92,340.83 84.20,330.00C84.48,319.17 84.70,310.83 85.00,305.00C85.30,299.17 85.62,296.50 86.00,295.00C86.38,293.50 86.90,294.83 87.30,296.00C87.70,297.17 88.08,299.53 88.40,302.00C88.72,304.47 88.90,307.25 89.20,310.80C89.50,314.35 89.98,319.57 90.20,323.30C90.42,327.03 90.32,329.58 90.50,333.20C90.68,336.82 91.00,340.53 91.30,345.00C91.60,349.47 91.97,354.67 92.30,360.00C92.63,365.33 92.97,371.33 93.30,377.00C93.63,382.67 93.97,389.17 94.30,394.00C94.63,398.83 94.68,401.50 95.30,406.00C95.92,410.50 97.05,416.17 98.00,421.00C98.95,425.83 100.00,431.33 101.00,435.00C102.00,438.67 102.93,440.67 104.00,443.00C105.07,445.33 106.40,447.75 107.40,449.00C108.40,450.25 108.13,450.25 110.00,450.50C111.87,450.75 116.75,450.75 118.60,450.50C120.45,450.25 120.38,449.92 121.10,449.00C121.82,448.08 122.28,445.93 122.90,445.00C123.52,444.07 124.17,443.40 124.80,443.40C125.43,443.40 125.87,444.15 126.70,445.00C127.53,445.85 128.67,447.63 129.80,448.50C130.93,449.37 131.80,449.87 133.50,450.20C135.20,450.53 129.10,450.45 140.00,450.50C150.90,450.55 187.53,451.28 198.90,450.50C210.27,449.72 205.30,447.37 208.20,445.80C211.10,444.23 213.58,442.68 216.30,441.10C219.02,439.52 222.00,438.02 224.50,436.30C227.00,434.58 229.48,432.50 231.30,430.80C233.12,429.10 234.15,427.23 235.40,426.10C236.65,424.97 237.55,423.88 238.80,424.00C240.05,424.12 241.65,425.20 242.90,426.80C244.15,428.40 245.17,430.88 246.30,433.60C247.43,436.32 248.57,440.38 249.70,443.10C250.83,445.82 251.85,448.53 253.10,449.90C254.35,451.27 253.33,451.07 257.20,451.30C261.07,451.53 273.12,451.30 276.30,451.30"/>
<path stroke="#2ca02c" d="M45.00,450.50C45.50,450.58 47.15,451.08 48.00,451.00C48.85,450.92 49.43,450.67 50.10,450.00C50.77,449.33 51.52,448.67 52.00,447.00C52.48,445.33 52.70,442.83 53.00,440.00C53.30,437.17 53.55,433.50 53.80,430.00C54.05,426.50 54.23,422.33 54.50,419.00C54.77,415.67 55.05,412.42 55.40,410.00C55.75,407.58 56.30,405.50 56.60,404.50C56.90,403.50 57.02,403.42 57.20,404.00C57.38,404.58 57.52,405.67 57.70,408.00C57.88,410.33 58.10,414.67 58.30,418.00C58.50,421.33 58.72,425.18 58.90,428.00C59.08,430.82 59.10,431.68 59.40,434.90C59.70,438.12 60.18,444.92 60.70,447.30C61.22,449.68 61.78,448.67 62.50,449.20C63.22,449.73 63.65,450.28 65.00,450.50C66.35,450.72 69.35,450.83 70.60,450.50C71.85,450.17 71.88,449.92 72.50,448.50C73.12,447.08 73.68,443.75 74.30,442.00C74.92,440.25 75.57,439.33 76.20,438.00C76.83,436.67 77.48,436.33 78.10,434.00C78.72,431.67 79.38,428.33 79.90,424.00C80.42,419.67 80.78,412.67 81.20,408.00C81.62,403.33 82.07,401.50 82.40,396.00C82.73,390.50 82.97,382.67 83.20,375.00C83.43,367.33 83.62,358.33 83.80,350.00C83.98,341.67 84.12,332.83 84.30,325.00C84.48,317.17 84.68,307.92 84.90,303.00C85.12,298.08 85.40,296.00 85.60,295.50C85.80,295.00 85.97,296.75 86.10,300.00C86.23,303.25 86.30,309.05 86.40,315.00C86.50,320.95 86.45,329.87 86.70,335.70C86.95,341.53 87.52,345.13 87.90,350.00C88.28,354.87 88.62,362.20 89.00,364.90C89.38,367.60 89.78,365.02 90.20,366.20C90.62,367.38 91.08,369.20 91.50,372.00C91.92,374.80 92.32,378.67 92.70,383.00C93.08,387.33 93.38,393.83 93.80,398.00C94.22,402.17 94.60,404.18 95.20,408.00C95.80,411.82 96.62,415.83 97.40,420.90C98.18,425.97 98.87,434.03 99.90,438.40C100.93,442.77 102.35,445.08 103.60,447.10C104.85,449.12 104.90,449.93 107.40,450.50C109.90,451.07 116.32,450.75 118.60,450.50C120.88,450.25 120.38,450.00 121.10,449.00C121.82,448.00 122.28,445.65 122.90,444.50C123.52,443.35 124.17,442.18 124.80,442.10C125.43,442.02 125.87,443.10 126.70,444.00C127.53,444.90 128.67,446.50 129.80,447.50C130.93,448.50 131.80,449.50 133.50,450.00C135.20,450.50 134.02,450.42 140.00,450.50C145.98,450.58 164.38,450.80 169.40,450.50C174.42,450.20 169.87,448.70 170.10,448.70C170.33,448.70 166.00,450.20 170.80,450.50C175.60,450.80 192.67,451.50 198.90,450.50C205.13,449.50 205.30,446.63 208.20,444.50C211.10,442.37 213.58,439.87 216.30,437.70C219.02,435.53 222.00,433.55 224.50,431.50C227.00,429.45 229.48,427.32 231.30,425.40C233.12,423.48 234.15,421.13 235.40,420.00C236.65,418.87 237.55,418.50 238.80,418.60C240.05,418.70 241.65,419.23 242.90,420.60C244.15,421.97 245.28,424.18 246.30,426.80C247.32,429.42 248.10,433.13 249.00,436.30C249.90,439.47 250.57,443.42 251.70,445.80C252.83,448.18 254.43,449.65 255.80,450.60C257.17,451.55 256.48,451.35 259.90,451.50C263.32,451.65 273.57,451.50 276.30,451.50"/>
<path stroke="#d62728" d="M45.10,450.40C45.42,450.72 46.38,452.50 47.00,452.30C47.62,452.10 48.18,450.23 48.80,449.20C49.42,448.17 50.13,447.30 50.70,446.10C51.27,444.90 51.77,443.68 52.20,442.00C52.63,440.32 52.98,438.67 53.30,436.00C53.62,433.33 53.88,429.67 54.10,426.00C54.32,422.33 54.43,418.67 54.60,414.00C54.77,409.33 54.92,405.33 55.10,398.00C55.28,390.67 55.53,376.42 55.70,370.00C55.87,363.58 55.95,359.50 56.10,359.50C56.25,359.50 56.43,364.58 56.60,370.00C56.77,375.42 56.95,387.33 57.10,392.00C57.25,396.67 57.35,399.00 57.50,398.00C57.65,397.00 57.82,389.10 58.00,386.00C58.18,382.90 58.42,380.07 58.60,379.40C58.78,378.73 58.90,379.40 59.10,382.00C59.30,384.60 59.58,390.33 59.80,395.00C60.02,399.67 60.22,405.00 60.40,410.00C60.58,415.00 60.73,420.50 60.90,425.00C61.07,429.50 61.18,433.83 61.40,437.00C61.62,440.17 61.85,442.08 62.20,444.00C62.55,445.92 63.07,447.57 63.50,448.50C63.93,449.43 64.23,449.28 64.80,449.60C65.37,449.92 65.93,450.25 66.90,450.40C67.87,450.55 69.67,451.05 70.60,450.50C71.53,449.95 71.88,449.33 72.50,447.10C73.12,444.87 73.68,439.18 74.30,437.10C74.92,435.02 75.57,435.43 76.20,434.60C76.83,433.77 77.48,434.38 78.10,432.10C78.72,429.82 79.38,425.25 79.90,420.90C80.42,416.55 80.78,410.15 81.20,406.00C81.62,401.85 82.07,401.17 82.40,396.00C82.73,390.83 82.97,382.67 83.20,375.00C83.43,367.33 83.60,359.17 83.80,350.00C84.00,340.83 84.20,328.50 84.40,320.00C84.60,311.50 84.78,303.45 85.00,299.00C85.22,294.55 85.45,293.63 85.70,293.30C85.95,292.97 86.23,294.88 86.50,297.00C86.77,299.12 87.02,302.17 87.30,306.00C87.58,309.83 87.88,315.67 88.20,320.00C88.52,324.33 88.85,328.33 89.20,332.00C89.55,335.67 89.97,339.00 90.30,342.00C90.63,345.00 90.90,347.22 91.20,350.00C91.50,352.78 91.75,354.13 92.10,358.70C92.45,363.27 92.90,371.18 93.30,377.40C93.70,383.62 94.13,390.82 94.50,396.00C94.87,401.18 94.82,403.93 95.50,408.50C96.18,413.07 97.57,418.83 98.60,423.40C99.63,427.97 100.77,432.98 101.70,435.90C102.63,438.82 103.25,438.83 104.20,440.90C105.15,442.97 106.47,446.70 107.40,448.30C108.33,449.90 107.93,450.18 109.80,450.50C111.67,450.82 116.72,450.57 118.60,450.20C120.48,449.83 120.38,449.75 121.10,448.30C121.82,446.85 122.28,443.15 122.90,441.50C123.52,439.85 124.17,438.50 124.80,438.40C125.43,438.30 125.87,439.67 126.70,440.90C127.53,442.13 128.67,444.45 129.80,445.80C130.93,447.15 131.80,448.22 133.50,449.00C135.20,449.78 133.95,450.25 140.00,450.50C146.05,450.75 164.68,450.23 169.80,450.50C174.92,450.77 170.40,452.10 170.70,452.10C171.00,452.10 170.67,450.97 171.60,450.50C172.53,450.03 174.90,449.32 176.30,449.30C177.70,449.28 176.23,450.22 180.00,450.40C183.77,450.58 194.20,451.62 198.90,450.40C203.60,449.18 205.30,445.68 208.20,443.10C211.10,440.52 213.58,437.52 216.30,434.90C219.02,432.28 222.12,429.67 224.50,427.40C226.88,425.13 229.02,423.57 230.60,421.30C232.18,419.03 232.63,415.95 234.00,413.80C235.37,411.65 237.32,408.97 238.80,408.40C240.28,407.83 241.65,408.93 242.90,410.40C244.15,411.87 245.28,414.47 246.30,417.20C247.32,419.93 247.98,422.93 249.00,426.80C250.02,430.67 251.27,436.88 252.40,440.40C253.53,443.92 254.55,446.32 255.80,447.90C257.05,449.48 256.48,449.45 259.90,449.90C263.32,450.35 273.57,450.48 276.30,450.60"/>
</g>
<g clip-path="url(#cpD)" fill="none" stroke-width="2.3" stroke-linejoin="round" stroke-linecap="butt">
<polyline stroke="#1f77b4" points="357.30,449.50 358.65,449.96 360.00,451.00 361.33,451.09 362.67,450.94 364.00,451.00 366.00,450.00 367.25,449.97 368.50,449.83 369.75,450.59 371.00,450.50 372.20,450.90 373.40,450.50 374.10,447.75 374.48,445.00 374.72,445.00 375.10,447.75 375.80,450.50 377.04,450.31 378.28,450.77 379.52,450.89 380.76,450.71 382.00,450.50 383.33,450.50 384.67,450.14 386.00,450.50 387.33,450.62 388.67,450.06 390.00,450.00 391.30,449.05 392.60,449.00 393.80,448.00 394.60,428.70 394.98,409.40 395.22,409.40 395.60,428.20 396.40,447.00 397.20,446.50 397.80,446.00 398.80,448.00 399.95,447.95 401.10,448.50 401.70,440.45 402.18,432.40 402.42,432.40 402.90,440.45 403.50,448.50 404.80,448.50 406.00,448.00 406.65,442.55 407.08,437.10 407.32,437.10 407.75,442.55 408.40,448.00 410.30,450.00 411.55,449.82 412.80,449.50 413.30,449.50 414.05,441.45 414.48,433.40 414.72,433.40 415.15,441.45 415.90,449.50 418.00,450.50 419.10,450.05 420.20,450.19 421.30,449.59 422.40,449.66 423.50,449.50 423.80,449.50 424.30,448.00 424.68,446.50 424.92,446.50 425.30,448.00 425.80,449.50 427.40,449.55 429.00,450.00 431.00,448.50 432.60,440.00 433.60,422.00 434.70,416.80 435.70,416.50 436.60,400.00 437.40,380.00 437.80,377.60 438.20,380.00 438.90,400.00 439.60,425.00 440.40,440.00 440.90,444.00 441.60,440.00 442.40,420.00 443.20,401.00 443.70,400.60 444.20,410.00 444.90,435.00 445.80,447.00 447.00,449.00 448.25,449.27 449.50,449.26 450.75,449.97 452.00,450.00 453.33,450.56 454.67,450.73 456.00,450.50 457.33,449.59 458.67,449.92 460.00,449.00 463.00,447.00 464.40,436.00 465.60,425.50 466.70,438.00 467.80,441.00 468.60,410.00 469.30,340.00 469.80,306.50 470.30,340.00 471.00,410.00 471.80,440.00 472.80,447.00 474.10,446.60 475.30,437.00 476.50,446.00 478.00,448.00 480.10,449.00 481.80,445.00 482.80,420.00 483.50,395.00 483.90,388.10 484.40,395.00 485.20,408.00 485.60,410.00 486.30,430.00 487.20,445.00 488.50,448.00 490.00,449.00 491.80,448.00 492.45,446.45 492.68,444.90 492.92,444.90 493.15,446.45 493.80,448.00 494.97,447.46 496.13,447.68 497.30,447.00 497.60,447.00 498.25,445.35 498.48,443.70 498.72,443.70 498.95,445.35 499.60,447.00 500.78,447.14 501.96,446.70 503.14,447.27 504.32,447.18 505.50,447.00 505.70,447.00 506.35,445.65 506.58,444.30 506.82,444.30 507.05,445.65 507.70,447.00 509.13,446.77 510.57,446.78 512.00,446.00 512.90,446.50 513.65,438.15 513.88,429.80 514.12,429.80 514.35,438.40 515.10,447.00 516.38,447.23 517.67,446.48 518.95,446.75 520.23,446.44 521.52,446.65 522.80,446.50 523.20,446.50 523.85,443.60 524.08,440.70 524.32,440.70 524.55,443.60 525.20,446.50 527.00,447.50 528.20,446.93 529.40,447.60 530.60,446.96 531.80,447.00 533.00,440.00 533.60,426.00 534.10,418.50 534.60,418.50 535.10,426.00 535.80,443.00 536.80,444.00 537.60,440.00 538.20,436.50 538.70,437.00 539.30,444.00 540.30,449.60 542.00,447.00 543.60,440.00 544.80,438.30 546.20,440.00 548.00,444.00 549.20,444.94 550.40,445.10 553.00,442.00 554.90,441.20 556.50,443.00 557.70,444.00 559.20,441.00 560.50,440.60 562.00,444.00 563.90,447.40 566.00,443.00 567.50,441.20 568.70,445.00 569.60,447.90 570.84,448.06 572.08,447.91 573.32,447.81 574.56,448.27 575.80,447.90 577.05,447.97 578.30,448.89 579.55,448.82 580.80,449.00 583.00,446.50 584.20,445.70 586.00,447.00 587.35,447.21 588.70,447.40"/>
<polyline stroke="#ff7f0e" points="357.30,449.50 358.65,450.11 360.00,450.00 361.80,448.00 362.80,444.00 363.80,442.70 364.80,444.00 365.80,448.00 367.00,449.50 368.25,449.35 369.50,450.04 370.75,449.48 372.00,450.00 373.60,449.00 374.60,448.30 375.60,449.00 377.00,450.00 378.33,449.85 379.67,449.62 381.00,449.50 382.80,447.00 383.90,445.50 385.20,446.50 386.50,448.50 387.75,448.59 389.00,449.50 390.60,446.00 391.30,430.00 391.80,400.00 392.20,330.00 392.50,312.10 392.80,330.00 393.20,400.00 393.60,430.00 394.20,444.00 395.20,448.00 396.50,448.50 398.50,449.50 399.70,449.53 400.90,449.00 401.70,446.45 402.08,443.90 402.32,443.90 402.70,446.45 403.50,449.00 405.00,449.00 405.80,449.00 406.40,447.50 406.78,446.00 407.02,446.00 407.40,447.50 408.00,449.00 410.00,449.50 411.50,449.68 413.00,449.00 413.40,449.00 414.10,446.45 414.48,443.90 414.72,443.90 415.10,446.45 415.80,449.00 417.20,448.91 418.60,449.39 420.00,449.50 421.14,449.18 422.29,449.26 423.43,449.28 424.57,448.59 425.71,449.13 426.86,448.73 428.00,448.50 428.30,448.50 429.00,445.95 429.38,443.40 429.62,443.40 430.00,445.95 430.70,448.50 431.80,447.00 433.00,442.00 434.20,438.70 435.40,436.00 436.60,428.00 437.30,422.50 437.70,421.90 438.20,423.00 438.90,430.00 439.80,437.00 440.80,439.00 441.80,437.00 442.60,433.00 443.20,432.40 443.80,434.00 444.60,440.00 445.60,445.00 447.00,446.00 448.50,446.50 450.00,446.00 451.50,447.00 453.00,447.50 455.00,447.00 456.50,445.00 458.50,442.00 460.50,438.50 462.10,437.00 463.70,438.50 465.50,441.50 466.60,440.00 467.40,430.00 468.10,417.40 468.80,405.00 469.30,398.70 469.90,405.00 470.60,420.00 471.50,432.00 472.50,433.50 473.50,428.00 474.30,424.80 475.00,426.00 475.60,429.80 476.50,435.00 477.40,438.50 479.00,440.00 480.50,439.80 481.60,434.00 482.40,427.30 483.00,423.00 483.70,421.70 484.40,424.00 484.90,429.80 485.80,438.00 487.00,444.00 488.50,446.50 489.67,447.08 490.83,447.20 492.00,448.00 493.33,447.56 494.67,447.49 496.00,447.50 497.33,447.57 498.67,447.40 500.00,447.00 501.20,446.55 502.40,446.97 503.60,446.30 504.80,446.78 506.00,446.50 507.16,446.45 508.32,445.87 509.48,446.50 510.64,445.72 511.80,446.00 512.70,443.00 513.40,441.90 514.10,443.00 515.00,446.00 516.25,446.42 517.50,447.01 518.75,447.53 520.00,447.50 521.20,446.93 522.40,447.16 523.60,446.61 524.80,446.46 526.00,446.50 527.25,446.06 528.50,446.37 529.75,446.50 531.00,446.00 532.50,441.00 533.70,435.90 534.90,438.00 536.00,442.00 537.50,444.00 538.75,443.51 540.00,443.00 542.50,441.00 544.80,439.50 546.50,441.00 548.00,443.00 551.00,445.00 552.33,445.46 553.67,445.76 555.00,446.00 556.50,445.15 558.00,444.50 560.50,442.00 562.00,444.00 563.50,446.00 564.67,446.34 565.83,446.62 567.00,447.00 568.33,447.43 569.67,447.64 571.00,448.00 572.33,448.56 573.67,448.92 575.00,449.00 576.14,448.73 577.28,449.48 578.42,449.49 579.57,449.04 580.71,449.65 581.85,449.12 582.99,449.15 584.13,450.05 585.28,450.07 586.42,450.21 587.56,450.28 588.70,450.00"/>
<polyline stroke="#2ca02c" points="357.30,449.50 358.70,449.59 360.10,449.22 361.50,449.00 362.90,446.00 363.80,444.50 364.70,446.00 366.00,449.00 367.20,449.63 368.40,449.06 369.60,449.68 370.80,450.17 372.00,450.00 373.17,450.16 374.33,449.26 375.50,449.78 376.67,448.95 377.83,448.60 379.00,448.34 380.17,448.82 381.33,448.55 382.50,448.00 383.90,446.00 385.30,447.00 386.50,449.00 387.68,449.43 388.85,449.30 390.02,449.24 391.20,449.00 391.90,446.00 392.70,441.80 393.40,446.00 394.20,449.00 395.47,449.44 396.73,449.39 398.00,450.00 399.20,449.55 400.40,449.41 401.60,449.75 402.80,449.98 404.00,449.33 405.20,449.47 406.40,449.61 407.60,449.45 408.80,449.29 410.00,449.00 411.11,449.01 412.22,449.19 413.33,449.10 414.44,449.48 415.56,449.08 416.67,449.23 417.78,449.13 418.89,448.91 420.00,449.00 421.11,449.27 422.22,449.19 423.33,448.94 424.44,449.38 425.56,449.83 426.67,449.69 427.78,449.27 428.89,449.50 430.00,449.50 431.33,448.93 432.67,448.51 434.00,448.00 435.33,447.42 436.67,447.16 438.00,446.50 439.25,446.91 440.50,446.45 441.75,446.17 443.00,446.50 444.50,447.01 446.00,447.00 448.50,444.00 449.30,430.00 450.00,415.00 450.50,411.20 451.00,415.00 451.70,430.00 452.50,443.00 454.00,446.00 456.00,444.00 458.00,442.00 460.00,441.00 463.30,439.00 465.00,441.00 466.30,443.00 467.50,441.00 468.80,435.00 470.00,428.00 471.00,418.00 472.00,407.00 472.90,403.20 473.70,404.00 474.50,406.00 475.20,407.00 475.90,409.30 476.70,415.00 477.40,421.10 478.70,426.00 480.10,430.90 481.30,431.10 483.00,433.00 484.20,436.00 485.00,440.00 486.20,444.00 487.40,446.50 491.00,449.00 492.25,448.87 493.50,448.48 494.75,448.09 496.00,448.00 497.33,447.45 498.67,447.31 500.00,447.00 501.11,447.31 502.22,447.02 503.33,447.18 504.44,446.56 505.56,446.96 506.67,447.16 507.78,446.59 508.89,446.60 510.00,447.00 511.11,447.31 512.22,447.24 513.33,447.21 514.44,446.98 515.56,447.53 516.67,447.65 517.78,447.38 518.89,447.54 520.00,447.50 521.20,447.36 522.40,447.01 523.60,447.50 524.80,447.09 526.00,447.00 527.33,446.69 528.67,446.62 530.00,446.50 532.50,443.00 533.70,440.00 534.90,441.00 536.00,443.00 537.25,443.37 538.50,443.05 539.75,443.41 541.00,444.00 543.50,440.00 545.30,437.80 547.00,440.00 548.50,442.50 552.00,445.00 553.25,446.01 554.50,446.44 555.75,446.74 557.00,447.50 559.50,443.00 561.10,440.00 562.40,442.00 563.50,445.50 566.00,449.00 567.12,448.62 568.25,449.31 569.38,448.98 570.50,448.70 571.62,449.30 572.75,448.68 573.88,449.00 575.00,449.00 576.14,449.01 577.28,448.73 578.42,449.27 579.57,449.74 580.71,448.99 581.85,449.51 582.99,449.65 584.13,449.43 585.28,450.14 586.42,449.79 587.56,449.59 588.70,450.00"/>
<polyline stroke="#d62728" points="357.30,448.30 358.20,447.50 359.60,450.20 360.80,449.00 361.50,447.40 362.30,440.00 362.90,430.00 363.60,415.00 364.30,398.00 364.80,389.50 365.20,389.50 365.60,398.00 366.00,415.00 366.30,430.00 366.80,440.00 367.70,447.00 368.80,449.20 369.90,449.70 371.15,449.74 372.40,449.63 373.65,450.33 374.90,449.90 376.15,449.92 377.40,450.20 378.95,450.11 380.50,449.50 381.70,446.00 382.50,440.80 383.30,438.00 383.90,437.60 384.60,437.80 385.30,438.50 386.00,442.00 386.70,445.50 387.60,447.40 389.50,448.80 390.77,449.06 392.03,449.85 393.30,450.20 394.48,449.99 395.65,450.24 396.82,449.31 398.00,449.50 399.20,449.38 400.40,450.01 401.60,449.50 402.80,450.23 404.00,450.20 405.17,449.27 406.33,449.13 407.50,448.50 409.20,446.00 410.40,444.40 411.60,446.00 413.00,448.50 414.20,448.94 415.40,448.67 416.60,448.97 417.80,449.61 419.00,449.70 420.17,450.03 421.33,450.04 422.50,449.63 423.67,449.88 424.83,449.64 426.00,450.06 427.17,450.22 428.33,450.31 429.50,450.20 430.75,449.30 432.00,449.00 434.20,447.60 436.00,446.20 437.70,445.50 438.80,446.50 440.00,447.50 441.50,446.80 442.60,445.80 443.70,445.50 444.80,446.20 446.00,447.00 448.20,444.50 449.10,432.00 449.90,418.00 450.50,415.90 451.10,418.00 451.90,432.00 452.70,442.00 454.00,443.00 456.00,441.80 457.23,441.29 458.47,441.24 459.70,440.60 460.90,440.58 462.10,439.78 463.30,439.40 465.00,441.50 466.30,444.20 467.30,443.00 468.10,440.60 469.20,436.00 469.90,432.10 470.80,428.00 471.20,427.30 471.90,418.00 472.50,411.00 472.90,409.30 473.40,408.60 473.80,410.00 474.10,414.00 474.50,417.50 474.90,419.90 475.70,424.00 476.50,427.30 477.70,431.00 478.90,433.30 480.60,434.00 482.40,434.80 483.60,437.00 484.90,441.00 486.20,444.50 487.40,446.60 489.00,448.30 491.00,449.00 492.50,449.38 494.00,449.10 495.25,448.69 496.50,448.24 497.75,447.99 499.00,447.50 500.18,447.03 501.35,446.58 502.52,446.81 503.70,446.10 504.80,446.61 505.90,446.88 507.00,447.00 508.50,447.18 510.00,447.50 511.20,447.56 512.40,447.43 513.60,447.56 514.80,447.47 516.00,448.00 517.16,448.26 518.32,448.06 519.48,447.15 520.64,447.64 521.80,447.30 523.20,447.44 524.60,447.47 526.00,447.50 527.55,446.69 529.10,446.70 531.00,445.50 532.50,443.00 533.70,441.90 535.00,442.50 536.30,443.70 537.40,444.42 538.50,444.50 539.80,444.80 541.10,445.50 542.20,443.50 543.10,441.70 544.20,440.50 545.30,440.00 546.60,441.50 548.10,444.00 549.80,445.50 551.50,446.20 552.75,447.03 554.00,447.50 555.60,447.62 557.20,448.50 558.40,446.50 559.40,444.00 560.30,442.00 561.10,441.20 561.90,442.50 562.80,445.10 563.90,447.80 565.10,449.60 566.22,449.61 567.33,449.81 568.45,449.38 569.57,449.27 570.68,449.44 571.80,449.60 573.50,449.00 575.20,448.50 576.80,449.20 578.60,449.60 579.72,449.75 580.84,449.64 581.97,450.12 583.09,449.75 584.21,450.05 585.33,450.15 586.46,450.18 587.58,450.53 588.70,450.20"/>
</g>
<rect x="34.5" y="25.0" width="252.5" height="198.0" fill="none" stroke="#000" stroke-width="1.1" stroke-linejoin="miter"/>
<line x1="84.2" y1="223.0" x2="84.2" y2="228.5" stroke="#000" stroke-width="1.1"/>
<line x1="148.0" y1="223.0" x2="148.0" y2="228.5" stroke="#000" stroke-width="1.1"/>
<line x1="211.7" y1="223.0" x2="211.7" y2="228.5" stroke="#000" stroke-width="1.1"/>
<line x1="275.4" y1="223.0" x2="275.4" y2="228.5" stroke="#000" stroke-width="1.1"/>
<line x1="29.0" y1="37.6" x2="34.5" y2="37.6" stroke="#000" stroke-width="1.1"/>
<line x1="29.0" y1="76.3" x2="34.5" y2="76.3" stroke="#000" stroke-width="1.1"/>
<line x1="29.0" y1="115.0" x2="34.5" y2="115.0" stroke="#000" stroke-width="1.1"/>
<line x1="29.0" y1="153.6" x2="34.5" y2="153.6" stroke="#000" stroke-width="1.1"/>
<line x1="29.0" y1="192.3" x2="34.5" y2="192.3" stroke="#000" stroke-width="1.1"/>
<rect x="346.8" y="25.0" width="252.7" height="198.0" fill="none" stroke="#000" stroke-width="1.1" stroke-linejoin="miter"/>
<line x1="426.9" y1="223.0" x2="426.9" y2="228.5" stroke="#000" stroke-width="1.1"/>
<line x1="507.4" y1="223.0" x2="507.4" y2="228.5" stroke="#000" stroke-width="1.1"/>
<line x1="588.0" y1="223.0" x2="588.0" y2="228.5" stroke="#000" stroke-width="1.1"/>
<line x1="341.3" y1="35.3" x2="346.8" y2="35.3" stroke="#000" stroke-width="1.1"/>
<line x1="341.3" y1="80.4" x2="346.8" y2="80.4" stroke="#000" stroke-width="1.1"/>
<line x1="341.3" y1="125.5" x2="346.8" y2="125.5" stroke="#000" stroke-width="1.1"/>
<line x1="341.3" y1="170.6" x2="346.8" y2="170.6" stroke="#000" stroke-width="1.1"/>
<line x1="341.3" y1="215.6" x2="346.8" y2="215.6" stroke="#000" stroke-width="1.1"/>
<rect x="34.5" y="269.5" width="252.5" height="197.8" fill="none" stroke="#000" stroke-width="1.1" stroke-linejoin="miter"/>
<line x1="84.2" y1="467.3" x2="84.2" y2="472.8" stroke="#000" stroke-width="1.1"/>
<line x1="148.0" y1="467.3" x2="148.0" y2="472.8" stroke="#000" stroke-width="1.1"/>
<line x1="211.7" y1="467.3" x2="211.7" y2="472.8" stroke="#000" stroke-width="1.1"/>
<line x1="275.4" y1="467.3" x2="275.4" y2="472.8" stroke="#000" stroke-width="1.1"/>
<line x1="29.0" y1="286.1" x2="34.5" y2="286.1" stroke="#000" stroke-width="1.1"/>
<line x1="29.0" y1="327.3" x2="34.5" y2="327.3" stroke="#000" stroke-width="1.1"/>
<line x1="29.0" y1="368.5" x2="34.5" y2="368.5" stroke="#000" stroke-width="1.1"/>
<line x1="29.0" y1="409.7" x2="34.5" y2="409.7" stroke="#000" stroke-width="1.1"/>
<line x1="29.0" y1="450.9" x2="34.5" y2="450.9" stroke="#000" stroke-width="1.1"/>
<rect x="346.8" y="269.5" width="252.7" height="197.8" fill="none" stroke="#000" stroke-width="1.1" stroke-linejoin="miter"/>
<line x1="426.9" y1="467.3" x2="426.9" y2="472.8" stroke="#000" stroke-width="1.1"/>
<line x1="507.4" y1="467.3" x2="507.4" y2="472.8" stroke="#000" stroke-width="1.1"/>
<line x1="588.0" y1="467.3" x2="588.0" y2="472.8" stroke="#000" stroke-width="1.1"/>
<line x1="341.3" y1="286.1" x2="346.8" y2="286.1" stroke="#000" stroke-width="1.1"/>
<line x1="341.3" y1="327.3" x2="346.8" y2="327.3" stroke="#000" stroke-width="1.1"/>
<line x1="341.3" y1="368.5" x2="346.8" y2="368.5" stroke="#000" stroke-width="1.1"/>
<line x1="341.3" y1="409.7" x2="346.8" y2="409.7" stroke="#000" stroke-width="1.1"/>
<line x1="341.3" y1="450.9" x2="346.8" y2="450.9" stroke="#000" stroke-width="1.1"/>
<text x="160.9" y="16.1" font-size="19.6" text-anchor="middle" textLength="12.6" lengthAdjust="spacingAndGlyphs" font-family="'Liberation Sans', sans-serif" fill="#000" >A</text>
<text x="473.4" y="15.3" font-size="19.6" text-anchor="middle" textLength="12.4" lengthAdjust="spacingAndGlyphs" font-family="'Liberation Sans', sans-serif" fill="#000" >C</text>
<text x="161.0" y="259.9" font-size="19.6" text-anchor="middle" font-family="'Liberation Sans', sans-serif" fill="#000" >B</text>
<text x="473.7" y="259.9" font-size="19.6" text-anchor="middle" font-family="'Liberation Sans', sans-serif" fill="#000" >D</text>
<text x="-18.75 -9.15 0.36 9.87" y="0" font-size="15.8" font-family="'Liberation Sans', sans-serif" fill="#000" transform="translate(84.2,490.5) scale(1.06,1)">1000</text>
<text x="-18.86 -9.15 0.36 9.87" y="0" font-size="15.8" font-family="'Liberation Sans', sans-serif" fill="#000" transform="translate(148.0,490.5) scale(1.06,1)">2000</text>
<text x="-18.65 -9.15 0.36 9.87" y="0" font-size="15.8" font-family="'Liberation Sans', sans-serif" fill="#000" transform="translate(211.7,490.5) scale(1.06,1)">3000</text>
<text x="-18.67 -9.15 0.36 9.87" y="0" font-size="15.8" font-family="'Liberation Sans', sans-serif" fill="#000" transform="translate(275.4,490.5) scale(1.06,1)">4000</text>
<text x="-9.35 0.36" y="0" font-size="15.8" font-family="'Liberation Sans', sans-serif" fill="#000" transform="translate(426.9,490.5) scale(1.06,1)">20</text>
<text x="-9.15 0.36" y="0" font-size="15.8" font-family="'Liberation Sans', sans-serif" fill="#000" transform="translate(507.4,490.5) scale(1.06,1)">40</text>
<text x="-9.15 0.36" y="0" font-size="15.8" font-family="'Liberation Sans', sans-serif" fill="#000" transform="translate(588.0,490.5) scale(1.06,1)">60</text>
<text x="-77.79 -67.46 -58.10 -54.57 -44.25 -38.69 -34.32 -25.61 -16.38 -11.88 -0.94 8.26 16.28 26.06 32.01 40.78 50.81 59.99 68.56" y="0" font-size="15.8" font-family="'Liberation Sans', sans-serif" fill="#000" transform="translate(13.0,124.6) rotate(-90) scale(1.06,1)">Relative Absorbance</text>
<text x="-77.79 -67.46 -58.10 -54.57 -44.25 -38.69 -34.32 -25.61 -16.38 -11.88 -0.94 8.26 16.28 26.06 32.01 40.78 50.81 59.99 68.56" y="0" font-size="15.8" font-family="'Liberation Sans', sans-serif" fill="#000" transform="translate(13.0,369.3) rotate(-90) scale(1.06,1)">Relative Absorbance</text>
<text x="-65.90 -55.59 -46.25 -42.73 -32.42 -26.88 -22.52 -13.82 -4.61 0.02 4.86 14.73 20.20 29.63 38.86 46.99 51.56 57.26" y="0" font-size="15.8" font-family="'Liberation Sans', sans-serif" fill="#000" transform="translate(325.4,124.4) rotate(-90) scale(1.06,1)">Relative Intensity</text>
<text x="-65.90 -55.59 -46.25 -42.73 -32.42 -26.88 -22.52 -13.82 -4.61 0.02 4.86 14.73 20.20 29.63 38.86 46.99 51.56 57.26" y="0" font-size="15.8" font-family="'Liberation Sans', sans-serif" fill="#000" transform="translate(325.4,369.1) rotate(-90) scale(1.06,1)">Relative Intensity</text>
<text x="0.00 13.62 23.73 32.42 41.85 51.35 61.37 75.76 85.13 94.90 100.54 105.16 114.25" y="0" font-size="15.8" font-family="'Liberation Sans', sans-serif" fill="#000" transform="translate(85.3,512.6) scale(1.06,1)">Wavenumber cm</text>
<rect x="222.9" y="501.7" width="6.3" height="1.05" fill="#000"/>
<text x="0.01" y="0" font-size="11.376" font-family="'Liberation Sans', sans-serif" fill="#000" transform="translate(231.2,506.7) scale(1.12,1)">1</text>
<text x="-9.17 0.37" y="0" font-size="15.8" font-family="'Liberation Sans', sans-serif" fill="#000" transform="translate(473.2,512.8) scale(1.06,1)">2θ</text>
<rect x="607.6" y="319.2" width="98.2" height="97.8" rx="3.2" fill="#fff" fill-opacity="0.8" stroke="#ccc" stroke-width="1.1"/>
<line x1="613" y1="331.6" x2="647" y2="331.6" stroke="#1f77b4" stroke-width="2.3"/>
<text x="0.28 9.87" y="0" font-size="15.8" font-family="'Liberation Sans', sans-serif" fill="#000" transform="translate(659.3,338.3) scale(1.06,1)">1h</text>
<line x1="613" y1="355.1" x2="647" y2="355.1" stroke="#ff7f0e" stroke-width="2.3"/>
<text x="0.16 9.87 19.38" y="0" font-size="15.8" font-family="'Liberation Sans', sans-serif" fill="#000" transform="translate(659.3,361.8) scale(1.06,1)">24h</text>
<line x1="613" y1="378.6" x2="647" y2="378.6" stroke="#2ca02c" stroke-width="2.3"/>
<text x="0.28 9.87 19.39 28.89" y="0" font-size="15.8" font-family="'Liberation Sans', sans-serif" fill="#000" transform="translate(659.3,385.3) scale(1.06,1)">144h</text>
<line x1="613" y1="402.1" x2="647" y2="402.1" stroke="#d62728" stroke-width="2.3"/>
<text x="0.28 9.87 19.39 28.89" y="0" font-size="15.8" font-family="'Liberation Sans', sans-serif" fill="#000" transform="translate(659.3,408.8) scale(1.06,1)">180h</text>
</svg></body></html>
